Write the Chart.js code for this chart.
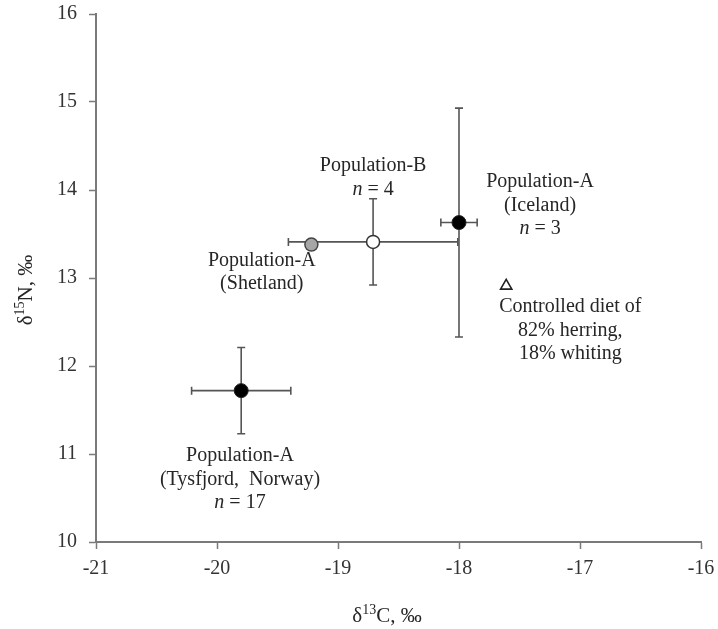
<!DOCTYPE html>
<html>
<head>
<meta charset="utf-8">
<script src="https://cdn.jsdelivr.net/npm/chart.js@4.4.1/dist/chart.umd.min.js"></script>
<style>
  body { margin: 0; background: #fff; }
  canvas { display: block; }
</style>
</head>
<body>
<canvas id="isoChart" width="718" height="629"></canvas>
<script>
// mean delta values and standard deviations
const groups = ['Tysfjord', 'Shetland', 'Population-B', 'Iceland', 'Controlled diet'];
const carbon = [-19.8, -19.22, -18.71, -18.0, -17.61];
const nitrogen = [11.72, 13.38, 13.41, 13.63, 12.91];
const carbonSd = [0.41, 0, 0.7, 0.15, 0];
const nitrogenSd = [0.49, 0, 0.49, 1.3, 0];

const xTicks = [-21, -20, -19, -18, -17, -16];
const yTicks = [10, 11, 12, 13, 14, 15, 16];

// text notes next to the points
const noteLines = [
    ['Population-A', '(Tysfjord,  Norway)', 'n = 17'],
    ['Population-A', '(Shetland)'],
    ['Population-B', 'n = 4'],
    ['Population-A', '(Iceland)', 'n = 3'],
    ['Controlled diet of', '82% herring,', '18% whiting']
];
const noteX = [-19.81, -19.63, -18.71, -17.33, -17.08];
const noteY = [10.98, 13.20, 14.27, 14.09, 12.67];

const serif = '"Liberation Serif", "DejaVu Serif", serif';
const axisGray = '#7a7a7a';
const barGray = '#555';

function pt(i) {
    return [{x: carbon[i], y: nitrogen[i]}];
}

// error bars behind the markers
const errorBars = {
    id: 'errorBars',
    beforeDatasetsDraw(chart) {
        let ctx = chart.ctx;
        let xs = chart.scales.x;
        let ys = chart.scales.y;
        ctx.save();
        ctx.strokeStyle = barGray;
        ctx.lineWidth = 1.6;
        for (let i = 0; i < groups.length; i++) {
            let cx = xs.getPixelForValue(carbon[i]);
            let cy = ys.getPixelForValue(nitrogen[i]);
            if (carbonSd[i] > 0) {
                let x0 = xs.getPixelForValue(carbon[i] - carbonSd[i]);
                let x1 = xs.getPixelForValue(carbon[i] + carbonSd[i]);
                ctx.beginPath();
                ctx.moveTo(x0, cy); ctx.lineTo(x1, cy);
                ctx.moveTo(x0, cy - 4); ctx.lineTo(x0, cy + 4);
                ctx.moveTo(x1, cy - 4); ctx.lineTo(x1, cy + 4);
                ctx.stroke();
            }
            if (nitrogenSd[i] > 0) {
                let y0 = ys.getPixelForValue(nitrogen[i] - nitrogenSd[i]);
                let y1 = ys.getPixelForValue(nitrogen[i] + nitrogenSd[i]);
                ctx.beginPath();
                ctx.moveTo(cx, y0); ctx.lineTo(cx, y1);
                ctx.moveTo(cx - 4, y0); ctx.lineTo(cx + 4, y0);
                ctx.moveTo(cx - 4, y1); ctx.lineTo(cx + 4, y1);
                ctx.stroke();
            }
        }
        ctx.restore();
    }
};

// notes and the axis titles with superscripts
const textLayer = {
    id: 'textLayer',
    afterDraw(chart) {
        let ctx = chart.ctx;
        let xs = chart.scales.x;
        let ys = chart.scales.y;
        ctx.save();
        ctx.fillStyle = '#262626';
        ctx.textBaseline = 'middle';
        for (let i = 0; i < noteLines.length; i++) {
            let cx = xs.getPixelForValue(noteX[i]);
            let cy = ys.getPixelForValue(noteY[i]);
            noteLines[i].forEach(function (line, k) {
                let y = cy + k * 23.5;
                if (line.startsWith('n =')) {
                    let rest = line.slice(1);
                    ctx.font = 'italic 20px ' + serif;
                    let w1 = ctx.measureText('n').width;
                    ctx.font = '20px ' + serif;
                    let w2 = ctx.measureText(rest).width;
                    let start = cx - (w1 + w2) / 2;
                    ctx.textAlign = 'left';
                    ctx.font = 'italic 20px ' + serif;
                    ctx.fillText('n', start, y);
                    ctx.font = '20px ' + serif;
                    ctx.fillText(rest, start + w1, y);
                } else {
                    ctx.textAlign = 'center';
                    ctx.font = '20px ' + serif;
                    ctx.fillText(line, cx, y);
                }
            });
        }

        drawIsoTitle(ctx, 'δ', '13', 'C, ‰', 387, 615, 0);
        drawIsoTitle(ctx, 'δ', '15', 'N, ‰', 25, 290, -Math.PI / 2);
        ctx.restore();
    }
};

function drawIsoTitle(ctx, pre, sup, post, x, y, rot) {
    ctx.save();
    ctx.translate(x, y);
    ctx.rotate(rot);
    ctx.textBaseline = 'alphabetic';
    ctx.textAlign = 'left';
    ctx.font = '21px ' + serif;
    let w1 = ctx.measureText(pre).width;
    let w3 = ctx.measureText(post).width;
    ctx.font = '14px ' + serif;
    let w2 = ctx.measureText(sup).width;
    let start = -(w1 + w2 + w3) / 2;
    ctx.font = '21px ' + serif;
    ctx.fillText(pre, start, 7);
    ctx.font = '14px ' + serif;
    ctx.fillText(sup, start + w1, -1);
    ctx.font = '21px ' + serif;
    ctx.fillText(post, start + w1 + w2, 7);
    ctx.restore();
}

const ctx = document.getElementById('isoChart').getContext('2d');
const chart = new Chart(ctx, {
    type: 'scatter',
    data: {
        datasets: [
            {label: groups[0], data: pt(0), pointRadius: 7, backgroundColor: '#000', borderColor: '#222', borderWidth: 1},
            {label: groups[1], data: pt(1), pointRadius: 6.5, backgroundColor: '#a6a6a6', borderColor: '#444', borderWidth: 1.5},
            {label: groups[2], data: pt(2), pointRadius: 6.5, backgroundColor: '#fff', borderColor: '#333', borderWidth: 1.5},
            {label: groups[3], data: pt(3), pointRadius: 7, backgroundColor: '#000', borderColor: '#222', borderWidth: 1},
            {label: groups[4], data: pt(4), pointStyle: 'triangle', pointRadius: 6.5, backgroundColor: '#fff', borderColor: '#222', borderWidth: 1.6}
        ]
    },
    options: {
        responsive: false,
        animation: false,
        devicePixelRatio: 1,
        layout: {padding: {left: 0, right: 17, top: 14, bottom: 0}},
        plugins: {legend: {display: false}, tooltip: {enabled: false}},
        scales: {
            x: {
                type: 'linear', min: xTicks[0], max: xTicks[xTicks.length - 1],
                afterBuildTicks: function (s) { s.ticks = xTicks.map(v => ({value: v})); },
                afterFit: function (s) { s.height = 87; s.paddingLeft = 0; s.paddingRight = 0; },
                grid: {display: true, drawOnChartArea: false, drawTicks: true, tickLength: 7, tickColor: axisGray, tickWidth: 1.5},
                border: {display: true, color: axisGray, width: 2},
                ticks: {color: '#333', padding: 8, font: {family: serif, size: 20}, maxRotation: 0}
            },
            y: {
                type: 'linear', min: yTicks[0], max: yTicks[yTicks.length - 1],
                afterBuildTicks: function (s) { s.ticks = yTicks.map(v => ({value: v})); },
                afterFit: function (s) { s.width = 96; s.paddingTop = 0; s.paddingBottom = 0; },
                grid: {display: true, drawOnChartArea: false, drawTicks: true, tickLength: 7, tickColor: axisGray, tickWidth: 1.5},
                border: {display: true, color: axisGray, width: 2},
                ticks: {color: '#333', padding: 12, font: {family: serif, size: 20}}
            }
        }
    },
    plugins: [errorBars, textLayer]
});
</script>
</body>
</html>
